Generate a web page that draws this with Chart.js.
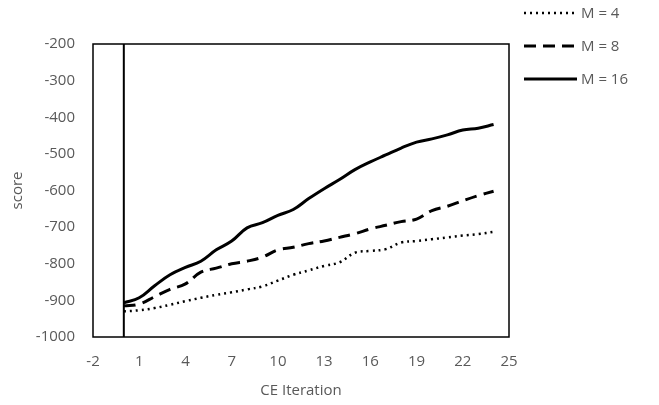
<!DOCTYPE html>
<html>
<head>
<meta charset="utf-8">
<script src="https://cdn.jsdelivr.net/npm/chart.js@4"></script>
<style>
    html, body { margin: 0; padding: 0; background: #fff; }
    #wrap { width: 659px; height: 405px; }
</style>
</head>
<body>
<div id="wrap"><canvas id="scoreChart"></canvas></div>
<script>
// CE iterations 0..24
const iterations = [0, 1, 2, 3, 4, 5, 6, 7, 8, 9, 10, 11, 12, 13, 14, 15, 16, 17, 18, 19, 20, 21, 22, 23, 24];

const scoreM4 = [-930, -927, -921, -912, -902, -893, -885, -878, -870, -862, -846, -830, -818, -806, -796,
    -770, -765, -760, -742, -738, -733, -728, -723, -719, -713];
const scoreM8 = [-915, -910, -890, -870, -855, -823, -812, -800, -793, -782, -762, -755, -745, -738, -728,
    -718, -705, -695, -685, -678, -655, -643, -628, -614, -602];
const scoreM16 = [-907, -893, -860, -830, -810, -793, -762, -738, -702, -688, -668, -652, -622, -595, -570,
    -543, -522, -503, -484, -468, -459, -448, -435, -430, -420];

const xTicks = [-2, 1, 4, 7, 10, 13, 16, 19, 22, 25];
const yTicks = [-1000, -900, -800, -700, -600, -500, -400, -300, -200];

const textColor = '#595959';
const fontFamily = '"Open Sans", "DejaVu Sans", sans-serif';
const fontSize = 15;

function toPoints(values) {
    return iterations.map((x, i) => ({ x: x, y: values[i] }));
}

// frame around plot area + the value axis crossing at x = 0
const frameLines = {
    id: 'frameLines',
    afterDatasetsDraw(chart) {
        const ctx = chart.ctx;
        const a = chart.chartArea;
        const x0 = chart.scales.x.getPixelForValue(0);
        ctx.save();
        ctx.strokeStyle = '#000';
        ctx.lineWidth = 1.5;
        ctx.strokeRect(a.left, a.top, a.right - a.left, a.bottom - a.top);
        ctx.lineWidth = 2;
        ctx.beginPath();
        ctx.moveTo(x0, a.top);
        ctx.lineTo(x0, a.bottom);
        ctx.stroke();
        ctx.restore();
    }
};

// legend in the top right corner, outside the plot
const sideLegend = {
    id: 'sideLegend',
    afterDraw(chart) {
        const ctx = chart.ctx;
        ctx.save();
        ctx.font = fontSize + 'px ' + fontFamily;
        ctx.textBaseline = 'middle';
        ctx.textAlign = 'left';
        chart.data.datasets.forEach((ds, i) => {
            const y = 13 + i * 33;
            ctx.strokeStyle = ds.borderColor;
            ctx.lineWidth = ds.borderWidth;
            ctx.setLineDash(ds.borderDash || []);
            ctx.beginPath();
            ctx.moveTo(524, y);
            ctx.lineTo(577, y);
            ctx.stroke();
            ctx.setLineDash([]);
            ctx.fillStyle = textColor;
            ctx.fillText(ds.label, 581, y + 1);
        });
        ctx.restore();
    }
};

const ctx = document.getElementById('scoreChart').getContext('2d');
new Chart(ctx, {
    type: 'line',
    data: {
        datasets: [{
            label: 'M = 4',
            data: toPoints(scoreM4),
            borderColor: '#000',
            borderWidth: 2.5,
            borderDash: [2, 4],
            tension: 0.4
        }, {
            label: 'M = 8',
            data: toPoints(scoreM8),
            borderColor: '#000',
            borderWidth: 3,
            borderDash: [12, 7],
            tension: 0.4
        }, {
            label: 'M = 16',
            data: toPoints(scoreM16),
            borderColor: '#000',
            borderWidth: 3,
            tension: 0.4
        }]
    },
    options: {
        responsive: true,
        maintainAspectRatio: false,
        animation: false,
        elements: { point: { radius: 0 } },
        layout: { padding: { top: 44, right: 150, left: 0, bottom: 0 } },
        plugins: {
            legend: { display: false },
            tooltip: { enabled: false }
        },
        scales: {
            x: {
                type: 'linear',
                min: -2,
                max: 25,
                afterBuildTicks: (scale) => { scale.ticks = xTicks.map(v => ({ value: v })); },
                afterFit: (scale) => { scale.height = 68; },
                grid: { display: false, drawTicks: false },
                border: { display: false },
                ticks: {
                    color: textColor,
                    padding: 16,
                    font: { family: fontFamily, size: fontSize },
                    callback: (v) => String(v)
                },
                title: {
                    display: true,
                    text: 'CE Iteration',
                    color: textColor,
                    padding: { top: 0, bottom: 5 },
                    font: { family: fontFamily, size: fontSize }
                }
            },
            y: {
                min: -1000,
                max: -200,
                afterBuildTicks: (scale) => { scale.ticks = yTicks.map(v => ({ value: v })); },
                afterFit: (scale) => { scale.width = 93; },
                grid: { display: false, drawTicks: false },
                border: { display: false },
                ticks: {
                    color: textColor,
                    padding: 18,
                    font: { family: fontFamily, size: fontSize },
                    callback: (v) => String(v)
                },
                title: {
                    display: true,
                    text: 'score',
                    color: textColor,
                    padding: { top: 9, bottom: 0 },
                    font: { family: fontFamily, size: fontSize }
                }
            }
        }
    },
    plugins: [frameLines, sideLegend]
});
</script>
</body>
</html>
